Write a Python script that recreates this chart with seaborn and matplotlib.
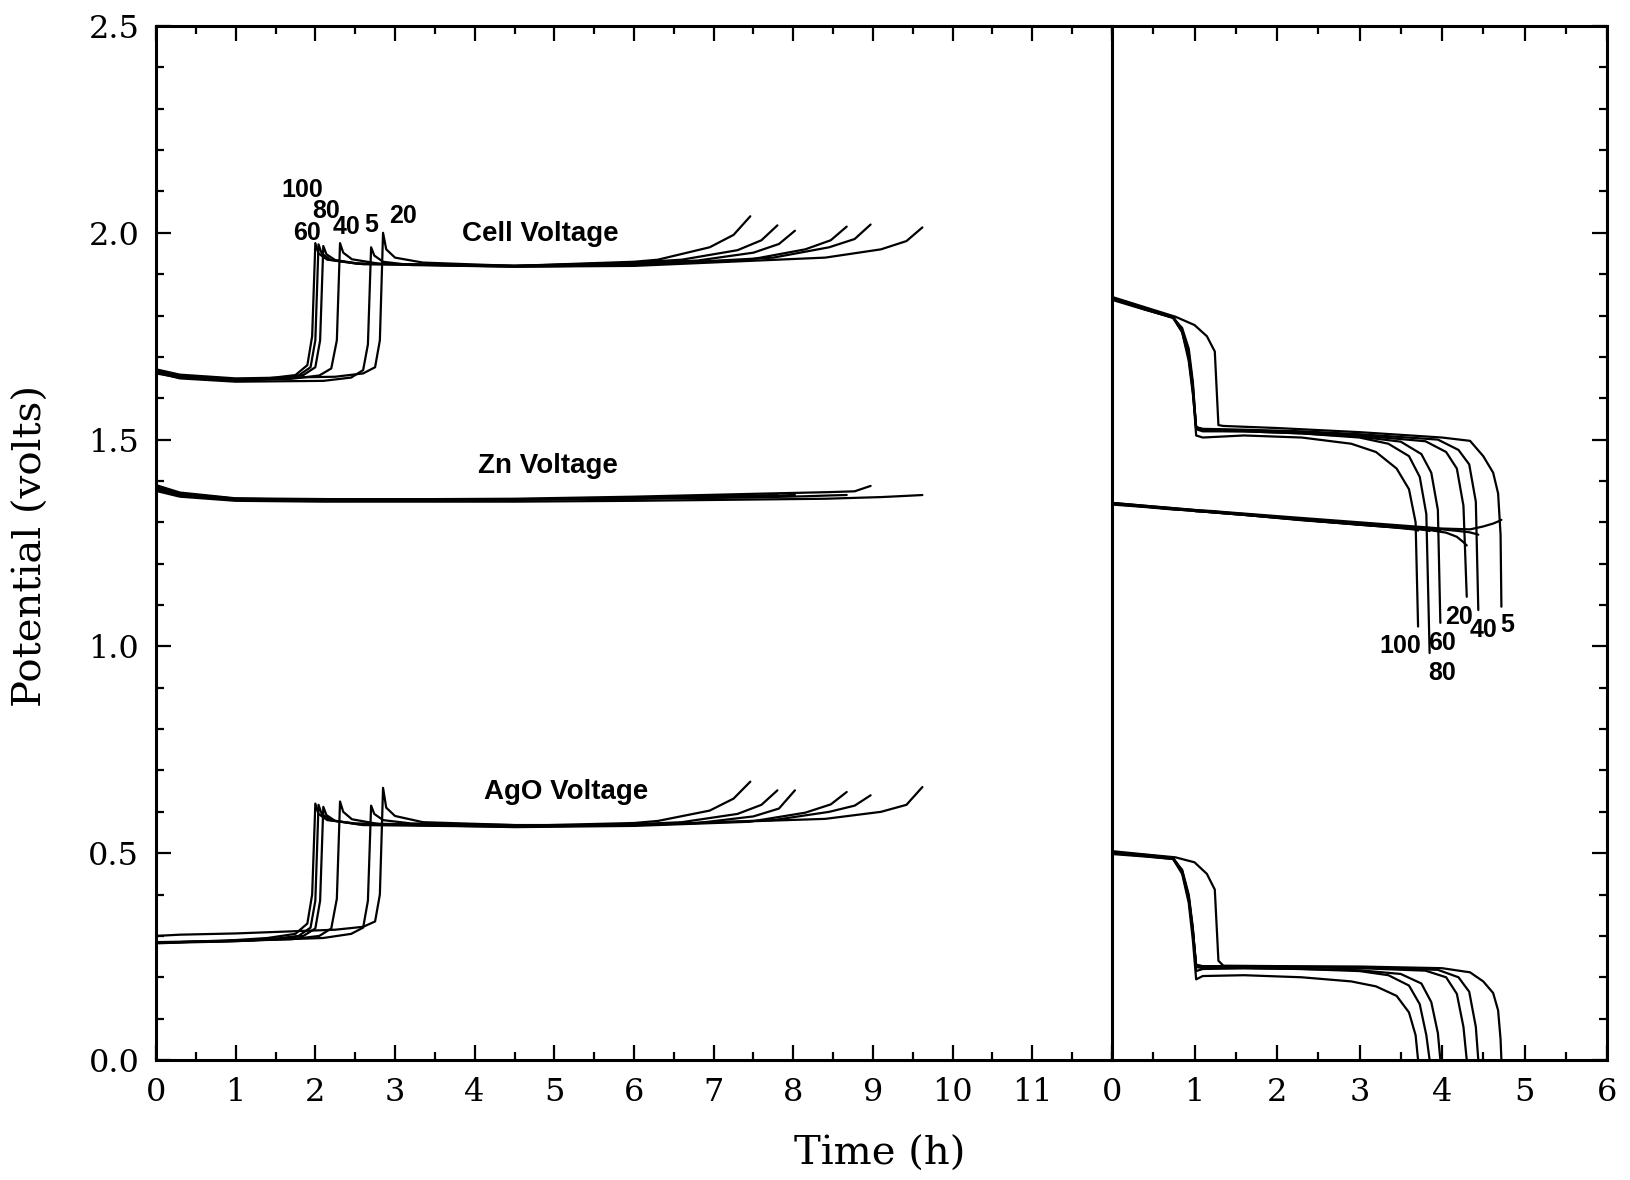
import matplotlib
matplotlib.use("Agg")
import matplotlib.pyplot as plt
from matplotlib.ticker import MultipleLocator
import numpy as np
import pandas as pd
import seaborn as sns

# ---------------- data ----------------
rates = [5, 20, 40, 60, 80, 100]

# ---- charge (left panel) ----
t_chg_100 = [0, 0.3, 1.0, 1.4, 1.75, 1.9, 1.96, 2.00, 2.04, 2.15, 2.5, 4.5, 6.0, 6.3, 6.95, 7.25, 7.46]
cell_chg_100 = [1.665, 1.652, 1.645, 1.648, 1.656, 1.68, 1.75, 1.975, 1.95, 1.935, 1.926, 1.92, 1.93, 1.935, 1.965, 1.995, 2.04]
zn_chg_100 = [1.385, 1.37, 1.357, 1.356, 1.356, 1.356, 1.356, 1.356, 1.356, 1.356, 1.355, 1.355, 1.358, 1.36, 1.363, 1.365, 1.367]
ago_chg_100 = [0.283, 0.285, 0.29, 0.295, 0.305, 0.33, 0.40, 0.62, 0.595, 0.58, 0.572, 0.566, 0.573, 0.578, 0.603, 0.632, 0.673]

t_chg_60 = [0, 0.3, 1.0, 1.44, 1.79, 1.94, 2.00, 2.04, 2.08, 2.19, 2.54, 4.5, 6.0, 6.6, 7.3, 7.6, 7.80]
cell_chg_60 = [1.66, 1.65, 1.643, 1.647, 1.655, 1.675, 1.74, 1.972, 1.95, 1.935, 1.925, 1.92, 1.928, 1.935, 1.958, 1.982, 2.018]
zn_chg_60 = [1.38, 1.366, 1.356, 1.355, 1.355, 1.355, 1.355, 1.355, 1.355, 1.355, 1.355, 1.355, 1.358, 1.36, 1.363, 1.365, 1.366]
ago_chg_60 = [0.282, 0.284, 0.287, 0.292, 0.30, 0.32, 0.385, 0.617, 0.595, 0.58, 0.57, 0.565, 0.57, 0.575, 0.595, 0.617, 0.652]

t_chg_80 = [0, 0.3, 1.0, 1.5, 1.85, 2.0, 2.06, 2.10, 2.14, 2.25, 2.6, 4.5, 6.0, 6.8, 7.5, 7.82, 8.02]
cell_chg_80 = [1.668, 1.653, 1.645, 1.648, 1.656, 1.675, 1.74, 1.968, 1.948, 1.934, 1.924, 1.92, 1.926, 1.933, 1.952, 1.973, 2.005]
zn_chg_80 = [1.383, 1.368, 1.357, 1.356, 1.356, 1.356, 1.356, 1.356, 1.356, 1.356, 1.356, 1.356, 1.358, 1.36, 1.363, 1.365, 1.366]
ago_chg_80 = [0.285, 0.286, 0.288, 0.292, 0.30, 0.318, 0.385, 0.612, 0.592, 0.578, 0.568, 0.564, 0.568, 0.573, 0.589, 0.608, 0.652]

t_chg_40 = [0, 0.3, 1.0, 1.7, 2.05, 2.2, 2.27, 2.31, 2.35, 2.46, 2.81, 4.5, 6.0, 7.45, 8.15, 8.47, 8.67]
cell_chg_40 = [1.665, 1.65, 1.643, 1.647, 1.655, 1.672, 1.74, 1.975, 1.952, 1.936, 1.925, 1.918, 1.922, 1.935, 1.96, 1.982, 2.015]
zn_chg_40 = [1.378, 1.365, 1.356, 1.355, 1.355, 1.355, 1.355, 1.355, 1.355, 1.355, 1.355, 1.355, 1.357, 1.36, 1.363, 1.365, 1.366]
ago_chg_40 = [0.284, 0.285, 0.288, 0.292, 0.30, 0.318, 0.39, 0.625, 0.6, 0.582, 0.57, 0.563, 0.566, 0.576, 0.598, 0.618, 0.648]

t_chg_5 = [0, 0.3, 1.0, 2.1, 2.45, 2.6, 2.66, 2.70, 2.74, 2.85, 3.2, 4.5, 6.0, 8.4, 9.1, 9.42, 9.62]
cell_chg_5 = [1.662, 1.648, 1.64, 1.642, 1.65, 1.668, 1.73, 1.965, 1.945, 1.93, 1.922, 1.918, 1.92, 1.94, 1.96, 1.98, 2.013]
zn_chg_5 = [1.376, 1.362, 1.352, 1.35, 1.35, 1.35, 1.35, 1.35, 1.35, 1.35, 1.35, 1.35, 1.352, 1.357, 1.361, 1.364, 1.366]
ago_chg_5 = [0.284, 0.285, 0.288, 0.295, 0.305, 0.32, 0.385, 0.615, 0.595, 0.58, 0.572, 0.568, 0.568, 0.583, 0.6, 0.617, 0.66]

t_chg_20 = [0, 0.3, 1.0, 2.25, 2.6, 2.75, 2.81, 2.85, 2.89, 3.0, 3.35, 4.5, 6.0, 7.75, 8.45, 8.77, 8.97]
cell_chg_20 = [1.67, 1.657, 1.648, 1.652, 1.66, 1.675, 1.74, 2.0, 1.96, 1.94, 1.928, 1.92, 1.922, 1.94, 1.965, 1.985, 2.02]
zn_chg_20 = [1.39, 1.372, 1.358, 1.356, 1.356, 1.356, 1.356, 1.356, 1.356, 1.356, 1.356, 1.357, 1.362, 1.37, 1.373, 1.375, 1.388]
ago_chg_20 = [0.30, 0.303, 0.306, 0.315, 0.322, 0.335, 0.40, 0.658, 0.61, 0.59, 0.575, 0.568, 0.568, 0.58, 0.6, 0.615, 0.64]

# ---- discharge (right panel) ----
t_dis_100 = [0, 0.4, 0.74, 0.85, 0.93, 0.98, 1.02, 1.1, 1.6, 2.3, 2.9, 3.2, 3.45, 3.6, 3.68, 3.71]
cell_dis_100 = [1.84, 1.815, 1.795, 1.76, 1.70, 1.62, 1.51, 1.505, 1.51, 1.505, 1.49, 1.47, 1.43, 1.38, 1.30, 1.048]
zn_dis_100 = [1.345, 1.338, 1.332, 1.33, 1.329, 1.328, 1.327, 1.326, 1.318, 1.305, 1.296, 1.291, 1.287, 1.284, 1.282, 1.28]
ago_dis_100 = [0.50, 0.493, 0.486, 0.45, 0.38, 0.29, 0.195, 0.203, 0.205, 0.2, 0.19, 0.178, 0.155, 0.115, 0.06, 0.0]

t_dis_80 = [0, 0.4, 0.74, 0.85, 0.93, 0.98, 1.02, 1.1, 1.6, 2.3, 3.0, 3.35, 3.6, 3.73, 3.81, 3.85]
cell_dis_80 = [1.842, 1.816, 1.796, 1.765, 1.71, 1.63, 1.53, 1.522, 1.52, 1.515, 1.505, 1.49, 1.46, 1.41, 1.32, 0.984]
zn_dis_80 = [1.343, 1.337, 1.331, 1.33, 1.329, 1.328, 1.327, 1.326, 1.318, 1.306, 1.294, 1.289, 1.285, 1.283, 1.281, 1.279]
ago_dis_80 = [0.502, 0.494, 0.487, 0.455, 0.39, 0.31, 0.225, 0.222, 0.222, 0.22, 0.215, 0.205, 0.18, 0.135, 0.06, 0.0]

t_dis_60 = [0, 0.4, 0.74, 0.85, 0.93, 0.98, 1.02, 1.1, 1.6, 2.3, 3.0, 3.5, 3.75, 3.87, 3.95, 3.98]
cell_dis_60 = [1.84, 1.815, 1.794, 1.77, 1.72, 1.64, 1.525, 1.52, 1.52, 1.515, 1.507, 1.495, 1.465, 1.42, 1.33, 1.057]
zn_dis_60 = [1.346, 1.339, 1.333, 1.331, 1.33, 1.329, 1.328, 1.327, 1.319, 1.307, 1.295, 1.288, 1.284, 1.282, 1.28, 1.279]
ago_dis_60 = [0.498, 0.492, 0.486, 0.46, 0.40, 0.32, 0.215, 0.22, 0.222, 0.22, 0.217, 0.208, 0.185, 0.14, 0.065, 0.0]

t_dis_20 = [0, 0.4, 0.74, 0.85, 0.93, 0.98, 1.02, 1.1, 1.6, 2.3, 3.0, 3.8, 4.05, 4.18, 4.26, 4.30]
cell_dis_20 = [1.838, 1.814, 1.795, 1.76, 1.69, 1.61, 1.53, 1.525, 1.522, 1.517, 1.51, 1.496, 1.47, 1.43, 1.34, 1.12]
zn_dis_20 = [1.344, 1.338, 1.332, 1.33, 1.329, 1.328, 1.327, 1.326, 1.318, 1.306, 1.295, 1.283, 1.275, 1.265, 1.252, 1.244]
ago_dis_20 = [0.5, 0.494, 0.488, 0.455, 0.39, 0.31, 0.23, 0.226, 0.226, 0.224, 0.222, 0.216, 0.2, 0.16, 0.08, 0.0]

t_dis_40 = [0, 0.4, 0.74, 0.85, 0.93, 0.98, 1.02, 1.1, 1.6, 2.3, 3.0, 3.95, 4.2, 4.33, 4.41, 4.44]
cell_dis_40 = [1.842, 1.817, 1.797, 1.765, 1.70, 1.62, 1.53, 1.526, 1.524, 1.52, 1.513, 1.5, 1.475, 1.44, 1.35, 1.088]
zn_dis_40 = [1.347, 1.34, 1.334, 1.332, 1.331, 1.33, 1.329, 1.328, 1.32, 1.308, 1.297, 1.284, 1.279, 1.276, 1.272, 1.27]
ago_dis_40 = [0.503, 0.496, 0.489, 0.458, 0.395, 0.315, 0.23, 0.227, 0.227, 0.225, 0.224, 0.218, 0.2, 0.165, 0.08, 0.0]

t_dis_5 = [0, 0.4, 0.77, 1.0, 1.15, 1.246, 1.29, 1.35, 2.0, 3.0, 4.0, 4.34, 4.5, 4.62, 4.68, 4.71, 4.72]
cell_dis_5 = [1.845, 1.82, 1.797, 1.777, 1.75, 1.713, 1.535, 1.533, 1.528, 1.518, 1.505, 1.497, 1.46, 1.42, 1.37, 1.27, 1.096]
zn_dis_5 = [1.347, 1.34, 1.334, 1.33, 1.328, 1.327, 1.326, 1.325, 1.315, 1.3, 1.285, 1.283, 1.29, 1.297, 1.302, 1.305, 1.306]
ago_dis_5 = [0.505, 0.497, 0.49, 0.478, 0.45, 0.412, 0.24, 0.228, 0.227, 0.226, 0.222, 0.212, 0.19, 0.162, 0.12, 0.05, 0.0]

# text labels
trace_labels = ["Cell Voltage", "Zn Voltage", "AgO Voltage"]
trace_label_x = [4.82, 4.92, 5.15]
trace_label_y = [1.998, 1.437, 0.648]
chg_rate_labels = ["100", "80", "60", "40", "5", "20"]
chg_rate_x = [1.83, 2.14, 1.89, 2.39, 2.70, 3.10]
chg_rate_y = [2.103, 2.053, 2.0, 2.015, 2.018, 2.04]
dis_rate_labels = ["100", "60", "80", "20", "40", "5"]
dis_rate_x = [3.49, 4.0, 4.0, 4.2, 4.5, 4.79]
dis_rate_y = [1.0, 1.008, 0.935, 1.072, 1.04, 1.052]

x_label = "Time (h)"
y_label = "Potential (volts)"

# ---------------- build tables ----------------
chg = {5: (t_chg_5, cell_chg_5, zn_chg_5, ago_chg_5),
       20: (t_chg_20, cell_chg_20, zn_chg_20, ago_chg_20),
       40: (t_chg_40, cell_chg_40, zn_chg_40, ago_chg_40),
       60: (t_chg_60, cell_chg_60, zn_chg_60, ago_chg_60),
       80: (t_chg_80, cell_chg_80, zn_chg_80, ago_chg_80),
       100: (t_chg_100, cell_chg_100, zn_chg_100, ago_chg_100)}
dis = {5: (t_dis_5, cell_dis_5, zn_dis_5, ago_dis_5),
       20: (t_dis_20, cell_dis_20, zn_dis_20, ago_dis_20),
       40: (t_dis_40, cell_dis_40, zn_dis_40, ago_dis_40),
       60: (t_dis_60, cell_dis_60, zn_dis_60, ago_dis_60),
       80: (t_dis_80, cell_dis_80, zn_dis_80, ago_dis_80),
       100: (t_dis_100, cell_dis_100, zn_dis_100, ago_dis_100)}


def to_frame(src):
    rows = []
    for r in rates:
        t, cell, zn, ago = src[r]
        for name, vals in (("cell", cell), ("zn", zn), ("ago", ago)):
            for ti, vi in zip(t, vals):
                rows.append((ti, vi, r, f"{name}_{r}"))
    return pd.DataFrame(rows, columns=["time", "volt", "rate", "curve"])


df_chg = to_frame(chg)
df_dis = to_frame(dis)

# ---------------- figure ----------------
sns.set_style("ticks")
plt.rcParams["font.family"] = ["DejaVu Serif", "DejaVu Sans"]
plt.rcParams["text.color"] = "black"
plt.rcParams["axes.labelcolor"] = "black"
plt.rcParams["xtick.color"] = "black"
plt.rcParams["ytick.color"] = "black"

W, H = 1630, 1180
fig = plt.figure(figsize=(W / 100, H / 100), dpi=100)
ax1 = fig.add_axes([156 / W, 120 / H, 956 / W, 1034 / H])
ax2 = fig.add_axes([1112 / W, 120 / H, 495 / W, 1034 / H])

for ax, df in ((ax1, df_chg), (ax2, df_dis)):
    sns.lineplot(data=df, x="time", y="volt", units="curve", estimator=None,
                 sort=False, color="black", linewidth=1.6, ax=ax, legend=False)
    ax.set_ylim(0, 2.5)
    ax.yaxis.set_major_locator(MultipleLocator(0.5))
    ax.yaxis.set_minor_locator(MultipleLocator(0.1))
    ax.xaxis.set_major_locator(MultipleLocator(1))
    ax.xaxis.set_minor_locator(MultipleLocator(0.5))
    ax.set_xlabel("")
    ax.set_ylabel("")
    for s in ax.spines.values():
        s.set_linewidth(2.2)
        s.set_color("black")
    ax.tick_params(which="both", direction="in", color="black", labelcolor="black",
                   width=1.6, top=True, labelsize=23, pad=12)
    ax.tick_params(which="major", length=11)
    ax.tick_params(which="minor", length=5.5)

ax1.set_xlim(0, 12)
ax1.set_xticks(range(0, 12))
ax1.set_xticklabels([str(i) for i in range(0, 12)])
ax1.yaxis.set_major_formatter(matplotlib.ticker.FormatStrFormatter("%.1f"))
ax1.tick_params(which="both", left=True, right=False)
ax1.spines["right"].set_visible(False)

ax2.set_xlim(0, 6)
ax2.tick_params(which="both", left=False, right=True, labelleft=False, labelright=False)

# text annotations
lab_font = dict(family=["Liberation Sans", "DejaVu Sans"], fontweight="bold", color="black")
for s, x, y in zip(trace_labels, trace_label_x, trace_label_y):
    ax1.text(x, y, s, ha="center", va="center", fontsize=20, **lab_font)
for s, x, y in zip(chg_rate_labels, chg_rate_x, chg_rate_y):
    ax1.text(x, y, s, ha="center", va="center", fontsize=18, **lab_font)
for s, x, y in zip(dis_rate_labels, dis_rate_x, dis_rate_y):
    ax2.text(x, y, s, ha="center", va="center", fontsize=18, **lab_font)

fig.text(880 / W, 1 - 1154 / H, x_label, ha="center", va="center", fontsize=29, color="black")
fig.text(31 / W, 1 - 546 / H, y_label, ha="center", va="center", rotation=90, fontsize=29, color="black")

fig.savefig("out.png", dpi=100, facecolor="white")
